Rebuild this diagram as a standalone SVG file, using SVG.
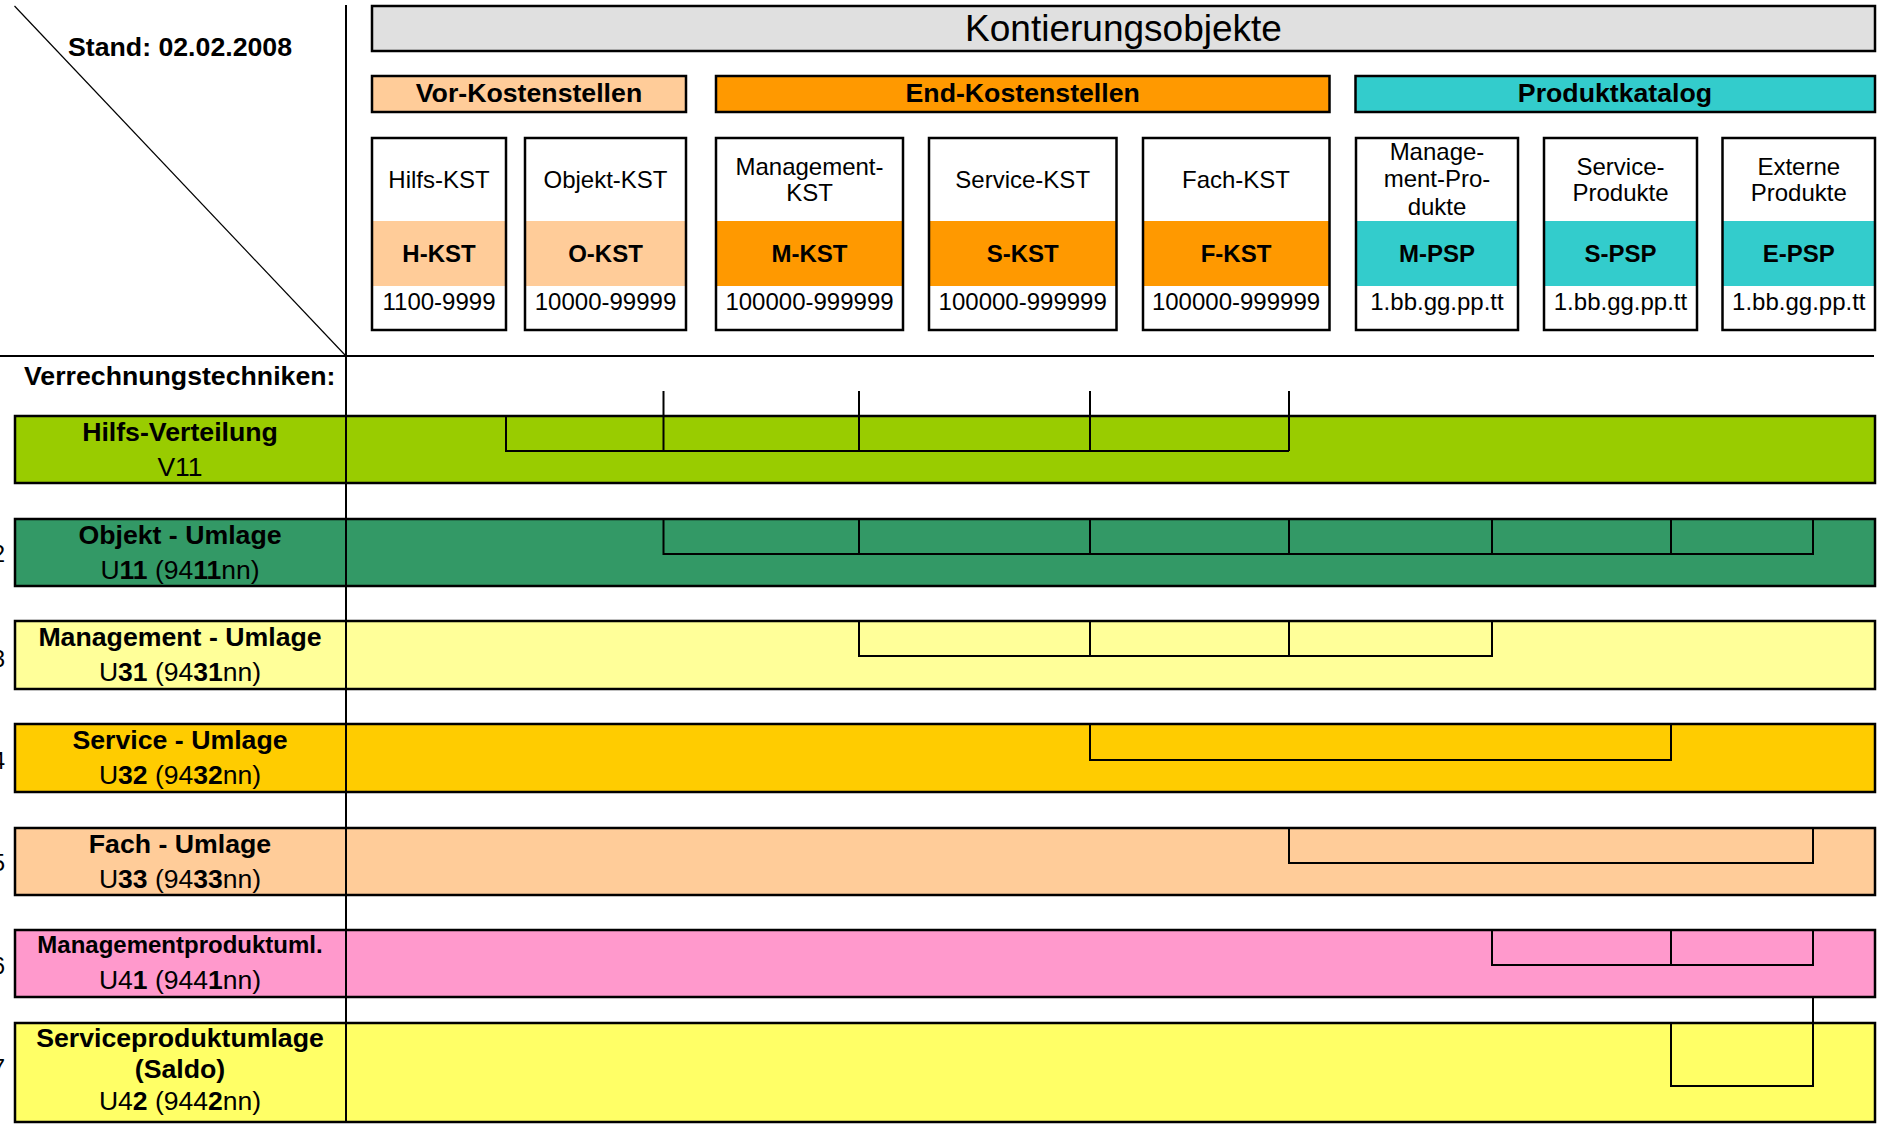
<svg xmlns="http://www.w3.org/2000/svg" width="1888" height="1128" viewBox="0 0 1888 1128">
<style>
.t{font-family:"Liberation Sans",Arial,Helvetica,sans-serif;fill:#000}
.c{text-anchor:middle}
.b{font-weight:bold}
.box{stroke:#000;stroke-width:2.5}
.ol{fill:none;stroke:#000;stroke-width:2.5}
.ln{stroke:#000;stroke-width:2;fill:none}
.s24{font-size:24px}
.s25{font-size:26.5px}
.s26{font-size:26.7px}
</style>
<rect x="0" y="0" width="1888" height="1128" fill="#fff"/>

<g id="corner">
<line x1="14.5" y1="6" x2="345" y2="355" stroke="#000" stroke-width="1.2"/>
<text class="t b s26" x="68" y="56">Stand: 02.02.2008</text>
</g>

<g id="kontierungsobjekte">
<rect class="box" x="372" y="6" width="1503" height="45" fill="#e0e0e0"/>
<text class="t c" font-size="37" x="1123.5" y="41">Kontierungsobjekte</text>
</g>

<g id="vor-kostenstellen">
<rect class="box" x="372" y="76" width="314" height="36" fill="#ffcc99"/>
<text class="t c b s26" x="529" y="102">Vor-Kostenstellen</text>
</g>
<g id="end-kostenstellen">
<rect class="box" x="716" y="76" width="613.5" height="36" fill="#ff9900"/>
<text class="t c b s26" x="1022.7" y="102">End-Kostenstellen</text>
</g>
<g id="produktkatalog">
<rect class="box" x="1355.5" y="76" width="519.5" height="36" fill="#33cccc"/>
<text class="t c b s26" x="1615" y="102">Produktkatalog</text>
</g>

<g id="h-kst">
<rect x="372" y="138" width="134" height="192" fill="#fff"/>
<rect x="372" y="221" width="134" height="65" fill="#ffcc99"/>
<rect class="ol" x="372" y="138" width="134" height="192"/>
<text class="t c s24" x="439" y="188">Hilfs-KST</text>
<text class="t c b s24" x="439" y="262">H-KST</text>
<text class="t c s24" x="439" y="310">1100-9999</text>
</g>
<g id="o-kst">
<rect x="525" y="138" width="161" height="192" fill="#fff"/>
<rect x="525" y="221" width="161" height="65" fill="#ffcc99"/>
<rect class="ol" x="525" y="138" width="161" height="192"/>
<text class="t c s24" x="605.5" y="188">Objekt-KST</text>
<text class="t c b s24" x="605.5" y="262">O-KST</text>
<text class="t c s24" x="605.5" y="310">10000-99999</text>
</g>
<g id="m-kst">
<rect x="716" y="138" width="187" height="192" fill="#fff"/>
<rect x="716" y="221" width="187" height="65" fill="#ff9900"/>
<rect class="ol" x="716" y="138" width="187" height="192"/>
<text class="t c s24" x="809.5" y="175">Management-</text>
<text class="t c s24" x="809.5" y="201">KST</text>
<text class="t c b s24" x="809.5" y="262">M-KST</text>
<text class="t c s24" x="809.5" y="310">100000-999999</text>
</g>
<g id="s-kst">
<rect x="929" y="138" width="187.5" height="192" fill="#fff"/>
<rect x="929" y="221" width="187.5" height="65" fill="#ff9900"/>
<rect class="ol" x="929" y="138" width="187.5" height="192"/>
<text class="t c s24" x="1022.7" y="188">Service-KST</text>
<text class="t c b s24" x="1022.7" y="262">S-KST</text>
<text class="t c s24" x="1022.7" y="310">100000-999999</text>
</g>
<g id="f-kst">
<rect x="1143" y="138" width="186.5" height="192" fill="#fff"/>
<rect x="1143" y="221" width="186.5" height="65" fill="#ff9900"/>
<rect class="ol" x="1143" y="138" width="186.5" height="192"/>
<text class="t c s24" x="1236" y="188">Fach-KST</text>
<text class="t c b s24" x="1236" y="262">F-KST</text>
<text class="t c s24" x="1236" y="310">100000-999999</text>
</g>
<g id="m-psp">
<rect x="1356" y="138" width="162" height="192" fill="#fff"/>
<rect x="1356" y="221" width="162" height="65" fill="#33cccc"/>
<rect class="ol" x="1356" y="138" width="162" height="192"/>
<text class="t c s24" x="1437" y="160">Manage-</text>
<text class="t c s24" x="1437" y="187">ment-Pro-</text>
<text class="t c s24" x="1437" y="215">dukte</text>
<text class="t c b s24" x="1437" y="262">M-PSP</text>
<text class="t c s24" x="1437" y="310">1.bb.gg.pp.tt</text>
</g>
<g id="s-psp">
<rect x="1544" y="138" width="153" height="192" fill="#fff"/>
<rect x="1544" y="221" width="153" height="65" fill="#33cccc"/>
<rect class="ol" x="1544" y="138" width="153" height="192"/>
<text class="t c s24" x="1620.5" y="175">Service-</text>
<text class="t c s24" x="1620.5" y="201">Produkte</text>
<text class="t c b s24" x="1620.5" y="262">S-PSP</text>
<text class="t c s24" x="1620.5" y="310">1.bb.gg.pp.tt</text>
</g>
<g id="e-psp">
<rect x="1722.5" y="138" width="152.5" height="192" fill="#fff"/>
<rect x="1722.5" y="221" width="152.5" height="65" fill="#33cccc"/>
<rect class="ol" x="1722.5" y="138" width="152.5" height="192"/>
<text class="t c s24" x="1798.8" y="175">Externe</text>
<text class="t c s24" x="1798.8" y="201">Produkte</text>
<text class="t c b s24" x="1798.8" y="262">E-PSP</text>
<text class="t c s24" x="1798.8" y="310">1.bb.gg.pp.tt</text>
</g>

<g id="verrechnungstechniken">
<text class="t b s26" x="24" y="385">Verrechnungstechniken:</text>
</g>

<g id="row-v11">
<rect class="box" x="15" y="416" width="1860" height="67" fill="#99cc00"/>
<text class="t c b s26" x="180" y="441">Hilfs-Verteilung</text>
<text class="t c s25" x="180" y="476">V11</text>
</g>
<g id="row-u11">
<rect class="box" x="15" y="519" width="1860" height="67" fill="#339966"/>
<text class="t c b s26" x="180" y="544">Objekt - Umlage</text>
<text class="t c s25" x="180" y="579">U<tspan class="b">11</tspan> (94<tspan class="b">11</tspan>nn)</text>
<text class="t s24" x="5" y="562" text-anchor="end">2</text>
</g>
<g id="row-u31">
<rect class="box" x="15" y="621" width="1860" height="68" fill="#ffff99"/>
<text class="t c b s26" x="180" y="646">Management - Umlage</text>
<text class="t c s25" x="180" y="681">U<tspan class="b">31</tspan> (94<tspan class="b">31</tspan>nn)</text>
<text class="t s24" x="5" y="667" text-anchor="end">3</text>
</g>
<g id="row-u32">
<rect class="box" x="15" y="724" width="1860" height="68" fill="#ffcc00"/>
<text class="t c b s26" x="180" y="749">Service - Umlage</text>
<text class="t c s25" x="180" y="784">U<tspan class="b">32</tspan> (94<tspan class="b">32</tspan>nn)</text>
<text class="t s24" x="5" y="769" text-anchor="end">4</text>
</g>
<g id="row-u33">
<rect class="box" x="15" y="828" width="1860" height="67" fill="#ffcc99"/>
<text class="t c b s26" x="180" y="853">Fach - Umlage</text>
<text class="t c s25" x="180" y="888">U<tspan class="b">33</tspan> (94<tspan class="b">33</tspan>nn)</text>
<text class="t s24" x="5" y="871" text-anchor="end">5</text>
</g>
<g id="row-u41">
<rect class="box" x="15" y="930" width="1860" height="67" fill="#ff99cc"/>
<text class="t c b s24" x="180" y="953">Managementproduktuml.</text>
<text class="t c s25" x="180" y="989">U4<tspan class="b">1</tspan> (944<tspan class="b">1</tspan>nn)</text>
<text class="t s24" x="5" y="974" text-anchor="end">6</text>
</g>
<g id="row-u42">
<rect class="box" x="15" y="1023" width="1860" height="99" fill="#ffff66"/>
<text class="t c b s26" x="180" y="1047">Serviceproduktumlage</text>
<text class="t c b s26" x="180" y="1078">(Saldo)</text>
<text class="t c s25" x="180" y="1110">U4<tspan class="b">2</tspan> (944<tspan class="b">2</tspan>nn)</text>
<text class="t s24" x="5" y="1076" text-anchor="end">7</text>
</g>

<g id="connectors">
<line class="ln" x1="346" y1="5" x2="346" y2="1122"/>
<line class="ln" x1="0" y1="356" x2="1874" y2="356"/>
<path class="ln" d="M506,416 V451 H1289"/>
<path class="ln" d="M663.5,391 V451 M859,391 V451 M1090,391 V451 M1289,391 V451"/>
<path class="ln" d="M663.5,519 V554 H1813 V519 M859,519 V554 M1090,519 V554 M1289,519 V554 M1492,519 V554 M1671,519 V554"/>
<path class="ln" d="M859,621 V656 H1492 V621 M1090,621 V656 M1289,621 V656"/>
<path class="ln" d="M1090,724 V760 H1671 V724"/>
<path class="ln" d="M1289,828 V863 H1813 V828"/>
<path class="ln" d="M1492,930 V965 H1813 V930 M1671,930 V965"/>
<path class="ln" d="M1671,1023 V1086 H1813 V997"/>
</g>
</svg>
